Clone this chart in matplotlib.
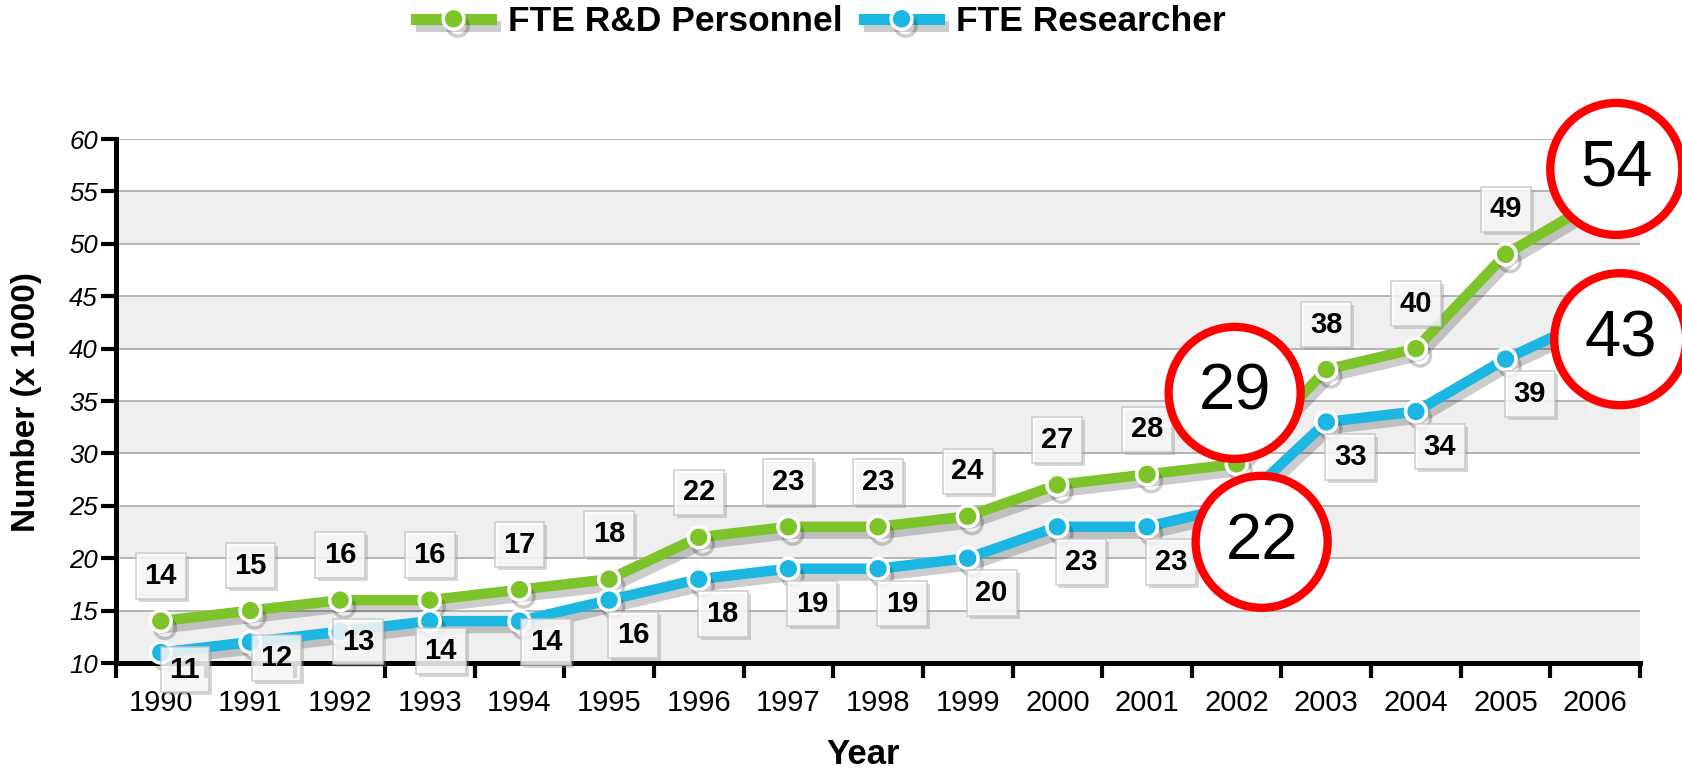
import numpy as np
import matplotlib
matplotlib.use("Agg")
import matplotlib.pyplot as plt
from matplotlib import patheffects as pe
from matplotlib.lines import Line2D
from matplotlib.patches import Circle
from matplotlib.transforms import IdentityTransform

years = [str(y) for y in range(1990, 2007)]
rd_personnel = [14, 15, 16, 16, 17, 18, 22, 23, 23, 24, 27, 28, 29, 38, 40, 49, 54]
researchers = [11, 12, 13, 14, 14, 16, 18, 19, 19, 20, 23, 23, 25, 33, 34, 39, 43]

# red circled callouts that sit over some points
callout_series = ["rd", "res", "rd", "res"]
callout_years = ["2006", "2006", "2002", "2002"]
callout_text = ["54", "43", "29", "22"]

GREEN = "#7dc42b"
BLUE = "#1cb6e2"

plt.rcParams["font.family"] = ["Liberation Sans", "DejaVu Sans"]

fig = plt.figure(figsize=(16.83, 7.75), dpi=100)
ax = fig.add_axes([0.0689, 0.1445, 0.9056, 0.6761])
ax.set_xlim(-0.5, len(years) - 0.5)
ax.set_ylim(10, 60)

# alternating bands + grid
for y0 in range(10, 60, 10):
    ax.axhspan(y0, y0 + 5, color="#efefef", zorder=0, lw=0)
ax.set_yticks(range(10, 61, 5))
ax.yaxis.grid(True, color="#aaaaaa", lw=1.2, zorder=1)
ax.set_axisbelow(True)

shadow = [pe.SimpleLineShadow(offset=(3, -5), shadow_color="k", alpha=0.2), pe.Normal()]
x = np.arange(len(years))
line_kw = dict(lw=7.5, marker="o", ms=15, mec="white", mew=2.5, solid_joinstyle="round",
               path_effects=shadow, clip_on=False)
ax.plot(x, rd_personnel, color=GREEN, zorder=3, **line_kw)
ax.plot(x, researchers, color=BLUE, zorder=3, **line_kw)

# axes styling
for s in ["top", "right"]:
    ax.spines[s].set_visible(False)
for s in ["left", "bottom"]:
    ax.spines[s].set_linewidth(3.6)
ax.set_xticks(x)
ax.set_xticklabels(years, fontsize=21)
ax.set_xticks(np.arange(-0.5, len(years), 1), minor=True)
ax.tick_params(axis="x", which="major", length=0, pad=19)
ax.tick_params(axis="x", which="minor", length=11, width=3)
ax.tick_params(axis="y", length=11, width=3, pad=2, labelsize=18.5)
for t in ax.get_yticklabels():
    t.set_style("italic")

# value labels
skip_rd = {callout_years[k] for k in range(4) if callout_series[k] == "rd"}
skip_res = {callout_years[k] for k in range(4) if callout_series[k] == "res"}
res_offsets = [(24, 17), (26, 16), (18, 10), (11, 30), (27, 21)] + [(24, 35)] * 12


def value_label(i, v, dx, dy):
    ax.annotate(str(v), (i, v), xytext=(dx + 3, -dy - 3), textcoords="offset pixels",
                ha="center", va="center", fontsize=21, weight="bold", color=(0, 0, 0, 0),
                bbox=dict(boxstyle="square,pad=0.3", fc="#8a8a8a", ec="none", alpha=0.35),
                zorder=4, annotation_clip=False)
    ax.annotate(str(v), (i, v), xytext=(dx, -dy), textcoords="offset pixels",
                ha="center", va="center", fontsize=21, weight="bold",
                bbox=dict(boxstyle="square,pad=0.3", fc="white", ec="#c4c4c4", lw=1.2, alpha=0.8),
                zorder=5, annotation_clip=False)


for i, (yr, v) in enumerate(zip(years, rd_personnel)):
    if yr not in skip_rd:
        value_label(i, v, 0, -45)
for i, (yr, v) in enumerate(zip(years, researchers)):
    if yr not in skip_res:
        value_label(i, v, *res_offsets[i])

# red circles (pixel offsets from the point they refer to)
circle_offsets = [(21, -33), (25, 22), (-2, -71), (25, 36)]
for ser, yr, txt, (dx, dy) in zip(callout_series, callout_years, callout_text, circle_offsets):
    i = years.index(yr)
    v = rd_personnel[i] if ser == "rd" else researchers[i]
    px, py = ax.transData.transform((i, v))
    cx, cy = px + dx, py - dy
    fig.patches.append(Circle((cx, cy), 66, transform=IdentityTransform(), fc="white",
                              ec="#ff0000", lw=6, zorder=10))
    fig.text(cx, cy, txt, transform=IdentityTransform(), ha="center", va="center",
             fontsize=47, zorder=11)

# legend
handles = [Line2D([], [], color=c, lw=8, marker="o", ms=15, mec="white", mew=2.5,
                  path_effects=shadow) for c in (GREEN, BLUE)]
fig.legend(handles, ["FTE R&D Personnel", "FTE Researcher"], loc="center",
           bbox_to_anchor=(0.488, 0.972), ncol=2, frameon=False,
           prop=dict(weight="bold", size=25.5), handlelength=2.1,
           columnspacing=0.6, handletextpad=0.5)

fig.text(0.016, 0.481, "Number (x 1000)", rotation=90, ha="center", va="center",
         fontsize=24, weight="bold")
fig.text(0.513, 0.0142, "Year", ha="center", va="baseline", fontsize=25, weight="bold")

fig.savefig("out.png", dpi=100)
